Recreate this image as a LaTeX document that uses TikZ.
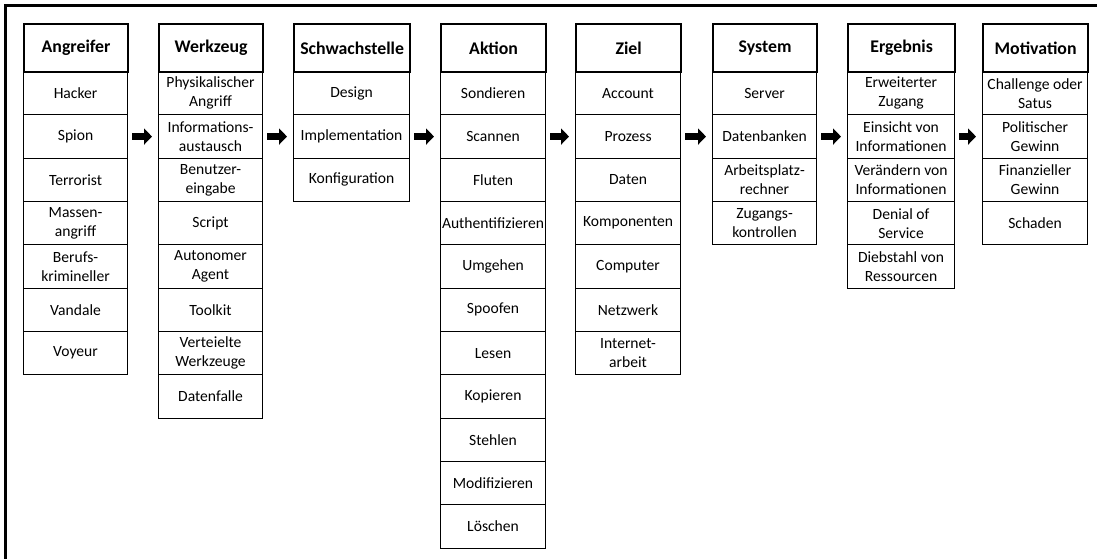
\documentclass[tikz,border=0pt]{standalone}
\usepackage{fontspec}
\setmainfont{Carlito}
\usetikzlibrary{arrows.meta}
\newcommand\mycolumn[5]{%
  \foreach \txt [count=\i] in {#5} {
    \node[cell=#3] (#1r\i) at (#2, {71+(\i-1)*43.33}) {\txt};
  }
  \node[headbox=#3] (#1h) at (#2,23) {#4};
}
\begin{document}
\begin{tikzpicture}[x=1pt,y=-1pt,
  cell/.style={draw, line width=1.1pt, minimum width=#1, minimum height=43.33pt,
    inner sep=0pt, align=center, anchor=north west,
    font=\fontsize{15.6}{19}\selectfont},
  headbox/.style={draw, line width=2.2pt, minimum width=#1, minimum height=48pt,
    inner sep=0pt, anchor=north west, fill=white,
    font=\fontsize{17.8}{20}\selectfont\bfseries},
  blockarrow/.style={line width=7.5pt, -{Triangle[length=8pt,width=16pt]},
    shorten <=4pt, shorten >=6pt}]
\useasboundingbox (0,0) rectangle (1097,559);
\fill[white] (0,0) rectangle (1097,559);
\draw[line width=2.5pt] (1097,5.5) -- (5.5,5.5) -- (5.5,559);

\mycolumn{a}{23}{104pt}{Angreifer}{Hacker, Spion, Terrorist, {Massen-\\angriff}, {Berufs-\\krimineller}, Vandale, Voyeur}
\mycolumn{b}{158}{104pt}{Werkzeug}{{Physikalischer\\Angriff}, {Informations-\\austausch}, {Benutzer-\\eingabe}, Script, {Autonomer\\Agent}, Toolkit, {Verteielte\\Werkzeuge}, Datenfalle}
\mycolumn{c}{293}{116pt}{Schwachstelle}{Design, Implementation, Konfiguration}
\mycolumn{d}{440}{105pt}{Aktion}{Sondieren, Scannen, Fluten, Authentifizieren, Umgehen, Spoofen, Lesen, Kopieren, Stehlen, Modifizieren, Löschen}
\mycolumn{e}{575}{105pt}{Ziel}{Account, Prozess, Daten, Komponenten, Computer, Netzwerk, {Internet-\\arbeit}}
\mycolumn{f}{712}{104pt}{System}{Server, Datenbanken, {Arbeitsplatz-\\rechner}, {Zugangs-\\kontrollen}}
\mycolumn{g}{847}{107pt}{Ergebnis}{{Erweiterter\\Zugang}, {Einsicht von\\Informationen}, {Verändern von\\Informationen}, {Denial of\\Service}, {Diebstahl von\\Ressourcen}}
\mycolumn{h}{982}{105pt}{Motivation}{{Challenge oder\\Satus}, {Politischer\\Gewinn}, {Finanzieller\\Gewinn}, Schaden}

\draw[blockarrow] (ar2.east) -- (br2.west);
\draw[blockarrow] (br2.east) -- (cr2.west);
\draw[blockarrow] (cr2.east) -- (dr2.west);
\draw[blockarrow] (dr2.east) -- (er2.west);
\draw[blockarrow] (er2.east) -- (fr2.west);
\draw[blockarrow] (fr2.east) -- (gr2.west);
\draw[blockarrow] (gr2.east) -- (hr2.west);
\end{tikzpicture}
\end{document}
